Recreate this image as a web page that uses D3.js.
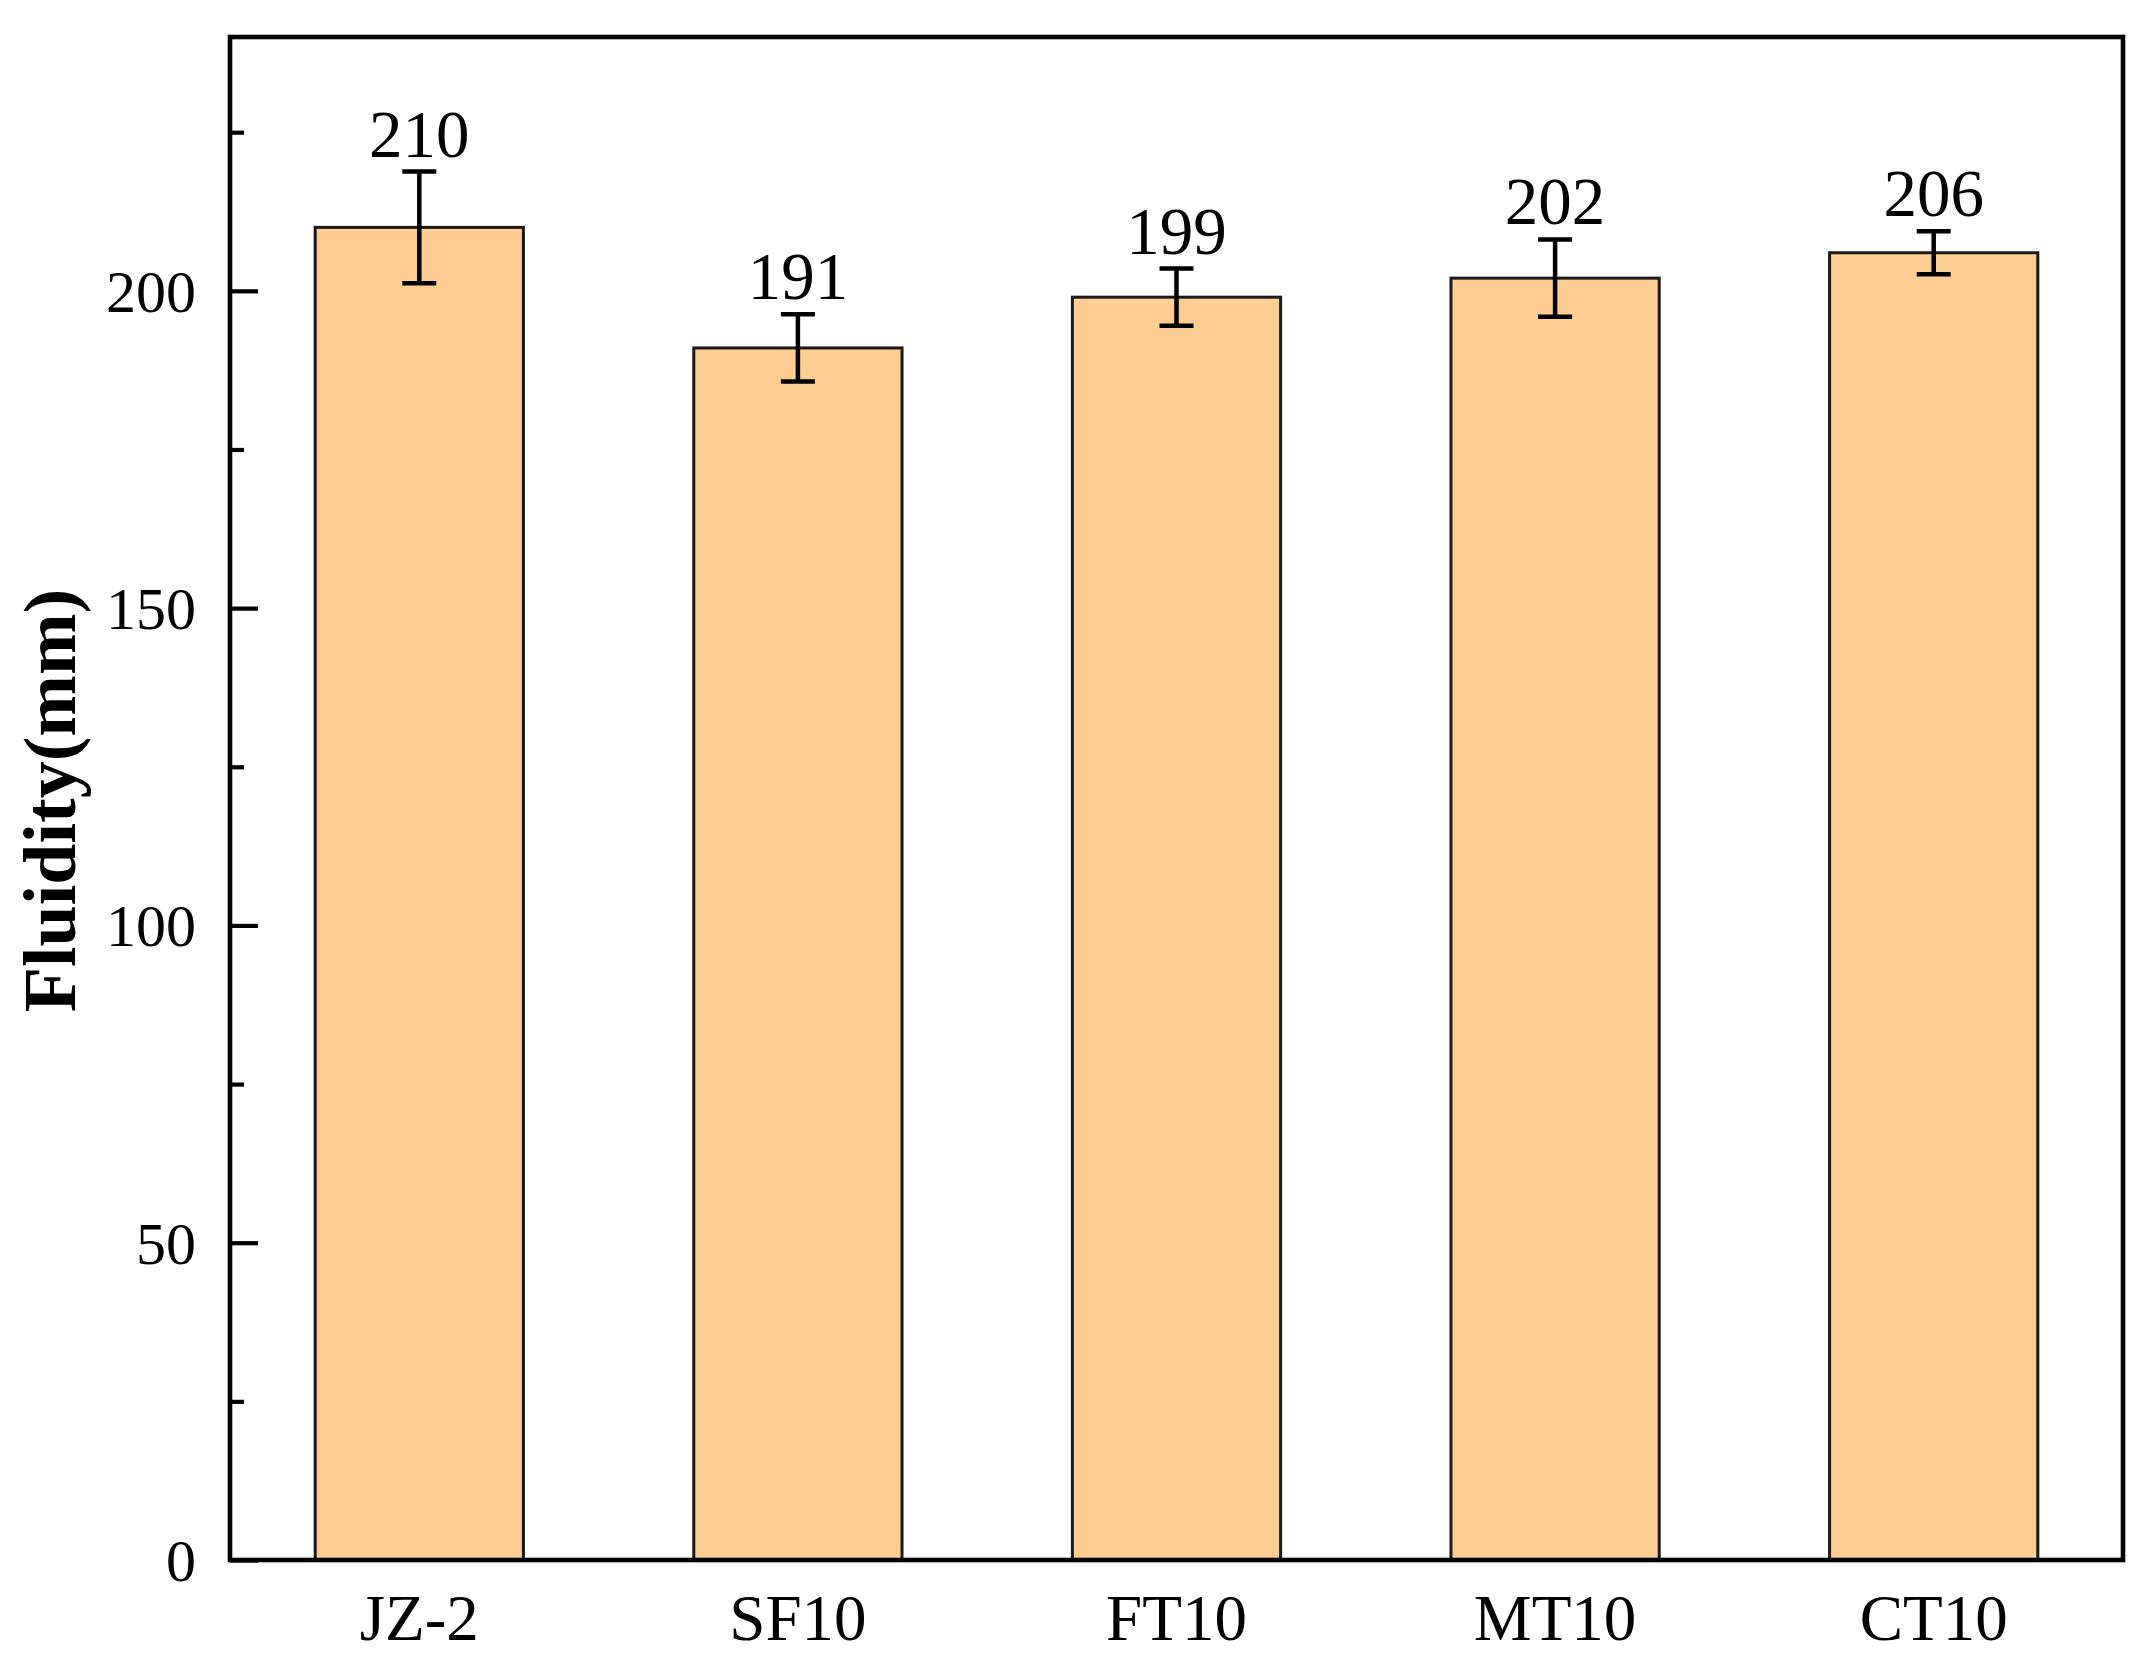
<!DOCTYPE html>
<html>
<head>
<meta charset="utf-8">
<script src="https://cdn.jsdelivr.net/npm/d3@7"></script>
<style>
  html, body { margin: 0; padding: 0; background: #fff; }
  svg { display: block; }
</style>
</head>
<body>
<svg id="chart" width="2151" height="1668"></svg>
<script>
// ---- data ----
const categories = ["JZ-2", "SF10", "FT10", "MT10", "CT10"];
const values = [210, 191, 199, 202, 206];
const errors = [8.8, 5.3, 4.5, 6.1, 3.4];
const valueLabels = ["210", "191", "199", "202", "206"];
const majorTicks = [0, 50, 100, 150, 200];
const minorTicks = [25, 75, 125, 175, 225];
const yLabel = "Fluidity(mm)";

// ---- layout ----
const W = 2151, H = 1668;
const m = { left: 230, right: 28, top: 37, bottom: 108 };
const x0 = m.left, x1 = W - m.right, y0 = H - m.bottom, y1 = m.top;
const font = "'Liberation Serif', 'Times New Roman', serif";

const svg = d3.select("#chart");

const x = d3.scaleBand().domain(categories).range([x0, x1])
  .paddingInner(0.45).paddingOuter(0.225);
const y = d3.scaleLinear().domain([0, 240]).range([y0, y1]);

// bars
svg.append("g").selectAll("rect").data(categories).join("rect")
  .attr("x", d => x(d))
  .attr("y", (d, i) => y(values[i]))
  .attr("width", x.bandwidth())
  .attr("height", (d, i) => y(0) - y(values[i]))
  .attr("fill", "#FDCD93")
  .attr("stroke", "#1a1a1a")
  .attr("stroke-width", 3);

// error bars
const capHalf = 17;
const eg = svg.append("g").attr("stroke", "#000").attr("stroke-width", 4.5).attr("fill", "none");
categories.forEach((c, i) => {
  const cx = x(c) + x.bandwidth() / 2;
  const yt = y(values[i] + errors[i]), yb = y(values[i] - errors[i]);
  eg.append("line").attr("x1", cx).attr("x2", cx).attr("y1", yt).attr("y2", yb);
  eg.append("line").attr("x1", cx - capHalf).attr("x2", cx + capHalf).attr("y1", yt).attr("y2", yt);
  eg.append("line").attr("x1", cx - capHalf).attr("x2", cx + capHalf).attr("y1", yb).attr("y2", yb);
});

// value labels
svg.append("g").selectAll("text").data(categories).join("text")
  .attr("x", d => x(d) + x.bandwidth() / 2)
  .attr("y", (d, i) => y(values[i] + errors[i]) - 15)
  .attr("text-anchor", "middle")
  .attr("font-family", font)
  .attr("font-size", 67)
  .attr("fill", "#000")
  .text((d, i) => valueLabels[i]);

// y axis (ticks inward)
const yAxis = d3.axisLeft(y).tickValues(majorTicks).tickSize(-28).tickPadding(0).tickFormat(d3.format("d"));
const ya = svg.append("g").attr("transform", `translate(${x0},0)`).call(yAxis);
ya.select(".domain").remove();
ya.selectAll(".tick line").attr("stroke", "#000").attr("stroke-width", 4.2);
ya.selectAll(".tick text")
  .attr("x", -34)
  .attr("dy", "0.34em")
  .attr("font-family", font)
  .attr("font-size", 60)
  .attr("fill", "#000");

const yMinor = d3.axisLeft(y).tickValues(minorTicks).tickSize(-14).tickFormat("");
const ym = svg.append("g").attr("transform", `translate(${x0},0)`).call(yMinor);
ym.select(".domain").remove();
ym.selectAll(".tick line").attr("stroke", "#000").attr("stroke-width", 4.2);

// x axis labels
const xAxis = d3.axisBottom(x).tickSize(0).tickPadding(0);
const xa = svg.append("g").attr("transform", `translate(0,${y0})`).call(xAxis);
xa.select(".domain").remove();
xa.selectAll(".tick text")
  .attr("y", 80)
  .attr("dy", 0)
  .attr("font-family", font)
  .attr("font-size", 65)
  .attr("fill", "#000");

// frame
svg.append("rect")
  .attr("x", x0).attr("y", y1)
  .attr("width", x1 - x0).attr("height", y0 - y1)
  .attr("fill", "none").attr("stroke", "#000").attr("stroke-width", 4.6);

// y label
svg.append("text")
  .attr("transform", `translate(75,${(y0 + y1) / 2 + 2}) rotate(-90)`)
  .attr("text-anchor", "middle")
  .attr("font-family", font)
  .attr("font-weight", "bold")
  .attr("font-size", 74)
  .attr("fill", "#000")
  .text(yLabel);
</script>
</body>
</html>
